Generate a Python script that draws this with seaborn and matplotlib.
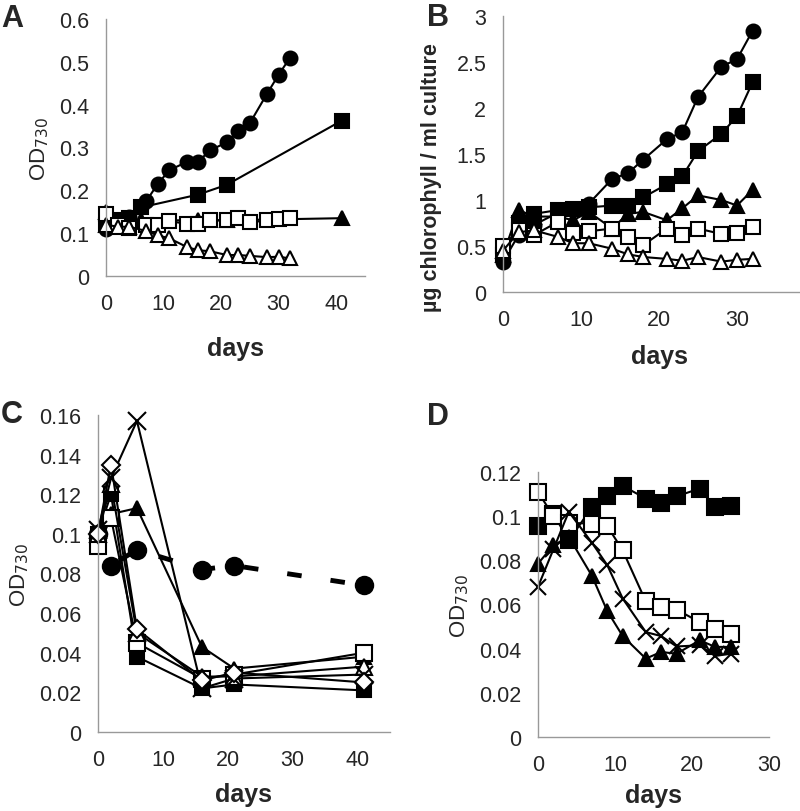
import seaborn as sns
import matplotlib.pyplot as plt
from matplotlib.ticker import FuncFormatter

# ---- panel A : OD730 ----
a_days_circle = [0, 2, 4, 6, 7, 9, 11, 14, 16, 18, 21, 23, 25, 28, 30, 32]
a_circle = [0.11, 0.12, 0.137, 0.16, 0.175, 0.215, 0.247, 0.266, 0.266, 0.293, 0.312, 0.338, 0.357, 0.426, 0.47, 0.51]
a_days_filled = [0, 2, 4, 6, 16, 21, 41]
a_square = [0.12, 0.13, 0.135, 0.16, 0.19, 0.213, 0.363]
a_triangle = [0.15, 0.13, 0.13, 0.13, 0.13, 0.13, 0.135]
a_days_open = [0, 2, 4, 7, 9, 11, 14, 16, 18, 21, 23, 25, 28, 30, 32]
a_square_open = [0.145, 0.12, 0.112, 0.12, 0.12, 0.128, 0.122, 0.122, 0.13, 0.13, 0.135, 0.125, 0.13, 0.133, 0.135]
a_triangle_open = [0.12, 0.115, 0.115, 0.105, 0.095, 0.088, 0.068, 0.06, 0.058, 0.049, 0.049, 0.047, 0.044, 0.045, 0.041]

# ---- panel B : chlorophyll ----
b_days = [0, 2, 4, 7, 9, 11, 14, 16, 18, 21, 23, 25, 28, 30, 32]
b_circle = [0.33, 0.62, 0.73, 0.86, 0.9, 0.96, 1.23, 1.29, 1.44, 1.66, 1.74, 2.12, 2.45, 2.53, 2.84]
b_square = [0.4, 0.75, 0.85, 0.89, 0.9, 0.92, 0.94, 0.94, 1.03, 1.17, 1.26, 1.53, 1.72, 1.91, 2.28]
b_triangle = [0.4, 0.89, 0.82, 0.82, 0.78, 0.87, 0.69, 0.85, 0.87, 0.78, 0.91, 1.05, 1.0, 0.94, 1.11]
b_square_open = [0.5, 0.67, 0.62, 0.76, 0.64, 0.66, 0.69, 0.6, 0.51, 0.69, 0.62, 0.69, 0.63, 0.64, 0.71]
b_triangle_open = [0.45, 0.65, 0.67, 0.6, 0.53, 0.53, 0.47, 0.41, 0.38, 0.36, 0.34, 0.38, 0.33, 0.35, 0.36]

# ---- panel C : OD730 ----
c_days = [0, 2, 6, 16, 21, 41]
c_circle = [0.1, 0.084, 0.092, 0.082, 0.084, 0.074]
c_square = [0.1, 0.12, 0.038, 0.022, 0.024, 0.021]
c_triangle = [0.1, 0.11, 0.113, 0.043, 0.032, 0.038]
c_square_open = [0.094, 0.108, 0.045, 0.027, 0.029, 0.04]
c_triangle_open = [0.1, 0.125, 0.05, 0.028, 0.028, 0.033]
c_cross = [0.102, 0.128, 0.157, 0.022, 0.027, 0.029]
c_diamond_open = [0.1, 0.135, 0.052, 0.026, 0.03, 0.025]

# ---- panel D : OD730 ----
d_days = [0, 2, 4, 7, 9, 11, 14, 16, 18, 21, 23, 25]
d_square = [0.0955, 0.101, 0.089, 0.104, 0.109, 0.1137, 0.108, 0.106, 0.109, 0.1125, 0.104, 0.1045]
d_square_open = [0.111, 0.1, 0.097, 0.0966, 0.0955, 0.0845, 0.0614, 0.059, 0.0577, 0.052, 0.0488, 0.0465]
d_cross = [0.068, 0.085, 0.102, 0.088, 0.0778, 0.0627, 0.0475, 0.0457, 0.041, 0.0415, 0.0367, 0.0377]
d_triangle = [0.0785, 0.0868, 0.0906, 0.073, 0.057, 0.0457, 0.0355, 0.0385, 0.0377, 0.0438, 0.0408, 0.0408]

sns.set_style('white')
plt.rcParams['font.family'] = ['Liberation Sans', 'DejaVu Sans']

fig = plt.figure(figsize=(8, 8.12), dpi=100)
W, H = 800, 812


def make_axes(left, top, right, bottom):
    return fig.add_axes([left / W, 1 - bottom / H, (right - left) / W, (bottom - top) / H])


def series(ax, x, y, marker, filled=True, ms=10, **kw):
    sns.lineplot(x=x, y=y, ax=ax, color='black', linewidth=1.5, marker=marker,
                 markersize=ms, markerfacecolor='black' if filled else 'white',
                 markeredgecolor='black', markeredgewidth=1.5, **kw)


def style(ax, xlim, ylim, yticks, xticks, ylabel, bold_ylabel=False, xpad=8):
    ax.set_xlim(*xlim)
    ax.set_ylim(*ylim)
    ax.set_yticks(yticks)
    ax.set_xticks(xticks)
    ax.yaxis.set_major_formatter(FuncFormatter(lambda v, p: '%g' % round(v, 3)))
    for s in ['top', 'right']:
        ax.spines[s].set_visible(False)
    for s in ['left', 'bottom']:
        ax.spines[s].set_color('#999999')
        ax.spines[s].set_linewidth(1)
    ax.tick_params(axis='both', direction='out', length=5, width=1, color='#999999',
                   labelsize=15.5, pad=7)
    ax.set_xlabel('days', fontsize=18, fontweight='bold', labelpad=xpad)
    if bold_ylabel:
        ax.set_ylabel(ylabel, fontsize=15.5, fontweight='bold')
    else:
        ax.set_ylabel(ylabel, fontsize=16, labelpad=6)
    for l in ax.lines:
        l.set_clip_on(False)


def panel_label(x, y, s):
    fig.text(x / W, 1 - y / H, s, fontsize=22, fontweight='bold', va='top', ha='left')


# A
ax = make_axes(106, 20, 365, 277)
series(ax, a_days_circle, a_circle, 'o')
series(ax, a_days_filled, a_square, 's')
series(ax, a_days_filled, a_triangle, '^')
series(ax, a_days_open, a_square_open, 's', filled=False)
series(ax, a_days_open, a_triangle_open, '^', filled=False)
style(ax, (0, 45), (0, 0.6), [0, 0.1, 0.2, 0.3, 0.4, 0.5, 0.6], [0, 10, 20, 30, 40],
      'OD$_{730}$', xpad=16)
panel_label(1, 4, 'A')

# B
ax = make_axes(503, 17, 815, 293)
series(ax, b_days, b_circle, 'o')
series(ax, b_days, b_square, 's')
series(ax, b_days, b_triangle, '^')
series(ax, b_days, b_square_open, 's', filled=False)
series(ax, b_days, b_triangle_open, '^', filled=False)
style(ax, (0, 40), (0, 3), [0, 0.5, 1, 1.5, 2, 2.5, 3], [0, 10, 20, 30],
      'µg chlorophyll / ml culture', bold_ylabel=True, xpad=10)
ax.yaxis.set_label_coords(-0.195, 0.42)
panel_label(427, 3, 'B')

# C
ax = make_axes(98, 416, 390, 733)
sns.lineplot(x=c_days, y=c_circle, ax=ax, color='black', linewidth=3.5, marker='o',
             markersize=14, markeredgewidth=0, linestyle=(0, (3, 6)))
series(ax, c_days, c_square, 's', ms=10.5)
series(ax, c_days, c_triangle, '^', ms=10.5)
series(ax, c_days, c_square_open, 's', filled=False, ms=11)
series(ax, c_days, c_triangle_open, '^', filled=False, ms=11)
series(ax, c_days, c_cross, 'x', ms=13)
series(ax, c_days, c_diamond_open, 'D', filled=False, ms=9)
style(ax, (0, 45), (0, 0.16), [0, 0.02, 0.04, 0.06, 0.08, 0.1, 0.12, 0.14, 0.16],
      [0, 10, 20, 30, 40], 'OD$_{730}$', xpad=9)
panel_label(1, 400, 'C')

# D
ax = make_axes(538, 473, 769, 738)
series(ax, d_days, d_square, 's', ms=12)
series(ax, d_days, d_square_open, 's', filled=False, ms=11)
series(ax, d_days, d_cross, 'x', ms=12)
series(ax, d_days, d_triangle, '^', ms=10.5)
style(ax, (0, 30), (0, 0.12), [0, 0.02, 0.04, 0.06, 0.08, 0.1, 0.12],
      [0, 10, 20, 30], 'OD$_{730}$', xpad=6)
panel_label(427, 402, 'D')

fig.savefig('out.png', dpi=100)
